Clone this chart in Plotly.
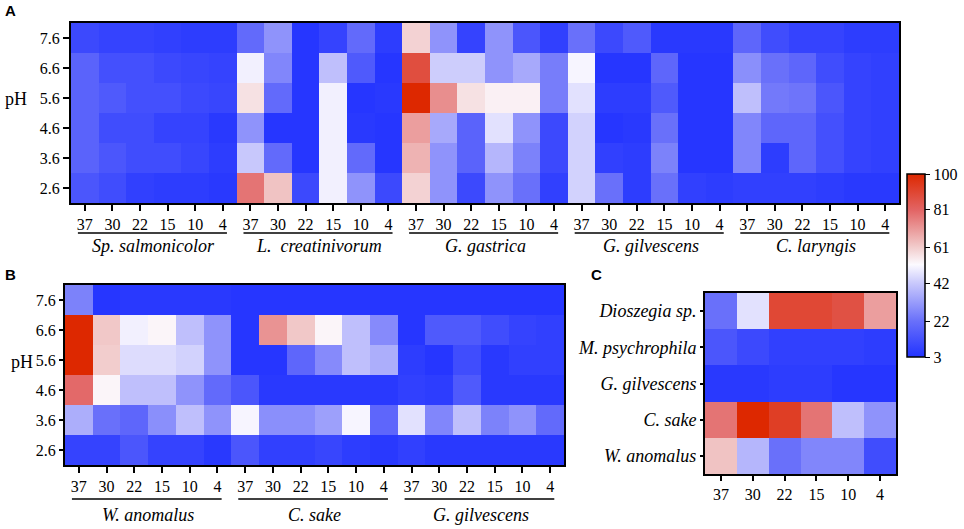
import plotly.graph_objects as go

# ---------------------------------------------------------------- data
ph_labels = ["7.6", "6.6", "5.6", "4.6", "3.6", "2.6"]
temps = ["37", "30", "22", "15", "10", "4"]

# panel A, rows = pH 7.6 -> 2.6, cols = 37 -> 4 C
sp_salmonicolor = [[10, 8, 8, 7, 6, 6],
                   [18, 12, 12, 10, 9, 8],
                   [18, 15, 12, 12, 10, 9],
                   [18, 11, 11, 8, 8, 5],
                   [18, 14, 11, 11, 9, 6],
                   [14, 11, 7, 6, 6, 5]]
l_creatinivorum = [[20, 30, 4, 8, 20, 6],
                   [50, 27, 4, 40, 15, 4],
                   [57, 20, 4, 50, 4, 5],
                   [30, 4, 4, 50, 5, 4],
                   [42, 20, 4, 50, 20, 4],
                   [78, 63, 10, 50, 30, 10]]
g_gastrica = [[60, 30, 8, 30, 14, 7],
              [88, 43, 43, 30, 35, 25],
              [100, 73, 57, 54, 54, 25],
              [70, 35, 18, 47, 30, 10],
              [66, 30, 18, 38, 26, 10],
              [60, 30, 10, 30, 22, 7]]
g_gilvescens_a = [[22, 10, 15, 5, 5, 5],
                  [51, 4, 4, 19, 4, 4],
                  [47, 6, 6, 15, 4, 4],
                  [44, 4, 5, 22, 4, 4],
                  [44, 7, 6, 26, 4, 4],
                  [44, 22, 6, 22, 7, 6]]
c_laryngis = [[19, 11, 8, 8, 6, 6],
              [29, 22, 19, 11, 8, 7],
              [40, 24, 23, 14, 8, 7],
              [27, 19, 19, 12, 8, 7],
              [27, 6, 19, 12, 8, 7],
              [7, 7, 7, 6, 5, 5]]

# panel B
w_anomalus_b = [[26, 4, 5, 5, 5, 5],
                [100, 62, 50, 53, 40, 30],
                [100, 61, 46, 46, 44, 30],
                [80, 53, 40, 40, 30, 20],
                [36, 22, 19, 29, 40, 30],
                [8, 8, 14, 8, 8, 5]]
c_sake_b = [[4, 4, 4, 4, 4, 4],
            [4, 72, 62, 53, 40, 28],
            [4, 4, 19, 28, 40, 36],
            [14, 5, 5, 5, 5, 5],
            [51, 29, 29, 33, 51, 19],
            [14, 7, 7, 9, 6, 5]]
g_gilvescens_b = [[4, 4, 4, 4, 4, 4],
                  [4, 15, 15, 11, 8, 7],
                  [6, 4, 11, 5, 7, 7],
                  [7, 6, 15, 5, 5, 5],
                  [47, 27, 40, 26, 30, 20],
                  [7, 5, 5, 5, 5, 5]]

# panel C, rows = species, cols = 37 -> 4 C
species_c = ["Dioszegia sp.", "M. psychrophila", "G. gilvescens", "C. sake", "W. anomalus"]
values_c = [[22, 47, 90, 90, 87, 70],
            [14, 10, 7, 7, 7, 6],
            [5, 5, 6, 6, 4, 4],
            [78, 100, 93, 78, 40, 30],
            [63, 38, 22, 27, 27, 11]]

groups_a = ["Sp. salmonicolor", "L.  creatinivorum", "G. gastrica", "G. gilvescens", "C. laryngis"]
groups_b = ["W. anomalus", "C. sake", "G. gilvescens"]
cbar_ticks = [3, 22, 42, 61, 81, 100]

# ---------------------------------------------------------------- style
ZMIN, ZMAX = 3, 100
stops = [3, 22, 42, 52, 61, 81, 100]
stop_cols = ["rgb(34,51,255)", "rgb(105,112,250)", "rgb(200,200,252)", "rgb(252,250,255)",
             "rgb(242,205,205)", "rgb(226,100,100)", "rgb(221,40,0)"]
colorscale = [[(v - ZMIN) / (ZMAX - ZMIN), c] for v, c in zip(stops, stop_cols)]

SERIF = "Liberation Serif"
W, H = 964, 529


def px(x):
    return x / W


def py(y):
    return 1 - y / H


def hstack(blocks):
    return [sum((b[r] for b in blocks), []) for r in range(len(blocks[0]))]


z_a = hstack([sp_salmonicolor, l_creatinivorum, g_gastrica, g_gilvescens_a, c_laryngis])
z_b = hstack([w_anomalus_b, c_sake_b, g_gilvescens_b])

fig = go.Figure()

fig.add_trace(go.Heatmap(
    z=z_a, x=list(range(len(z_a[0]))), y=list(range(len(ph_labels))),
    zmin=ZMIN, zmax=ZMAX, colorscale=colorscale, xaxis="x", yaxis="y",
    colorbar=dict(
        x=px(907), xanchor="left", y=py(265.5), yanchor="middle",
        len=183 / H, lenmode="fraction", thickness=18, xpad=0, ypad=0,
        outlinecolor="black", outlinewidth=1.5,
        tickvals=cbar_ticks, ticks="outside", ticklen=5, tickcolor="black",
        tickfont=dict(family=SERIF, size=16, color="black"),
    ),
))
fig.add_trace(go.Heatmap(
    z=z_b, x=list(range(len(z_b[0]))), y=list(range(len(ph_labels))),
    zmin=ZMIN, zmax=ZMAX, colorscale=colorscale, showscale=False,
    xaxis="x2", yaxis="y2",
))
fig.add_trace(go.Heatmap(
    z=values_c, x=list(range(len(temps))), y=list(range(len(species_c))),
    zmin=ZMIN, zmax=ZMAX, colorscale=colorscale, showscale=False,
    xaxis="x3", yaxis="y3",
))

axis_common = dict(showline=True, linecolor="black", linewidth=2, mirror=True,
                   ticks="outside", tickcolor="black", tickwidth=1.5, automargin=False,
                   showgrid=False, zeroline=False, fixedrange=True,
                   tickfont=dict(family=SERIF, size=16, color="black"))

n_a = len(z_a[0])
n_b = len(z_b[0])
fig.update_layout(
    width=W, height=H, margin=dict(l=0, r=0, t=0, b=0, autoexpand=False),
    paper_bgcolor="white", plot_bgcolor="white", showlegend=False,
    xaxis=dict(axis_common, domain=[px(71), px(899)], range=[-0.5, n_a - 0.5],
               tickvals=list(range(n_a)), ticktext=temps * len(groups_a), ticklen=6),
    yaxis=dict(axis_common, domain=[py(203), py(23)], range=[len(ph_labels) - 0.5, -0.5],
               tickvals=list(range(len(ph_labels))), ticktext=ph_labels, ticklen=6),
    xaxis2=dict(axis_common, anchor="y2", domain=[px(65), px(564)], range=[-0.5, n_b - 0.5],
                tickvals=list(range(n_b)), ticktext=temps * len(groups_b), ticklen=6),
    yaxis2=dict(axis_common, anchor="x2", domain=[py(465), py(285)], range=[len(ph_labels) - 0.5, -0.5],
                tickvals=list(range(len(ph_labels))), ticktext=ph_labels, ticklen=4),
    xaxis3=dict(axis_common, anchor="y3", domain=[px(705), px(896)], range=[-0.5, len(temps) - 0.5],
                tickvals=list(range(len(temps))), ticktext=temps, ticklen=5),
    yaxis3=dict(axis_common, anchor="x3", domain=[py(474), py(293)], range=[len(species_c) - 0.5, -0.5],
                tickvals=list(range(len(species_c))),
                ticktext=["<i>%s</i>" % s for s in species_c], ticklen=3,
                tickfont=dict(family=SERIF, size=18, color="black")),
)

# group underlines and names
shapes = []
annotations = []
for g, name in enumerate(groups_a):
    shapes.append(dict(type="line", xref="x", yref="paper", x0=6 * g - 0.25, x1=6 * g + 5.15,
                       y0=py(233), y1=py(233), line=dict(color="black", width=1.5)))
    annotations.append(dict(xref="x", yref="paper", x=6 * g + 2.5, y=py(246), text="<i>%s</i>" % name,
                            xanchor="center", yanchor="middle", showarrow=False,
                            font=dict(family=SERIF, size=18, color="black")))
for g, name in enumerate(groups_b):
    shapes.append(dict(type="line", xref="x2", yref="paper", x0=6 * g - 0.25, x1=6 * g + 5.15,
                       y0=py(499), y1=py(499), line=dict(color="black", width=1.5)))
    annotations.append(dict(xref="x2", yref="paper", x=6 * g + 2.5, y=py(515), text="<i>%s</i>" % name,
                            xanchor="center", yanchor="middle", showarrow=False,
                            font=dict(family=SERIF, size=18, color="black")))

# pH labels and panel letters
for lx, ly in [(16, 99), (22, 362)]:
    annotations.append(dict(xref="paper", yref="paper", x=px(lx), y=py(ly), text="pH", showarrow=False,
                            xanchor="center", yanchor="middle",
                            font=dict(family=SERIF, size=18, color="black")))
for letter, lx, ly in [("A", 10, 11), ("B", 10, 274), ("C", 596, 274)]:
    annotations.append(dict(xref="paper", yref="paper", x=px(lx), y=py(ly), text="<b>%s</b>" % letter,
                            xanchor="center", yanchor="middle", showarrow=False,
                            font=dict(family="Liberation Sans", size=15, color="black")))

fig.update_layout(shapes=shapes, annotations=annotations)

# the page body has a default 8px margin, drop it so the figure sits at the corner
fig.write_html("out.html", config={"displayModeBar": False},
               post_script="document.body.style.margin='0px';")
